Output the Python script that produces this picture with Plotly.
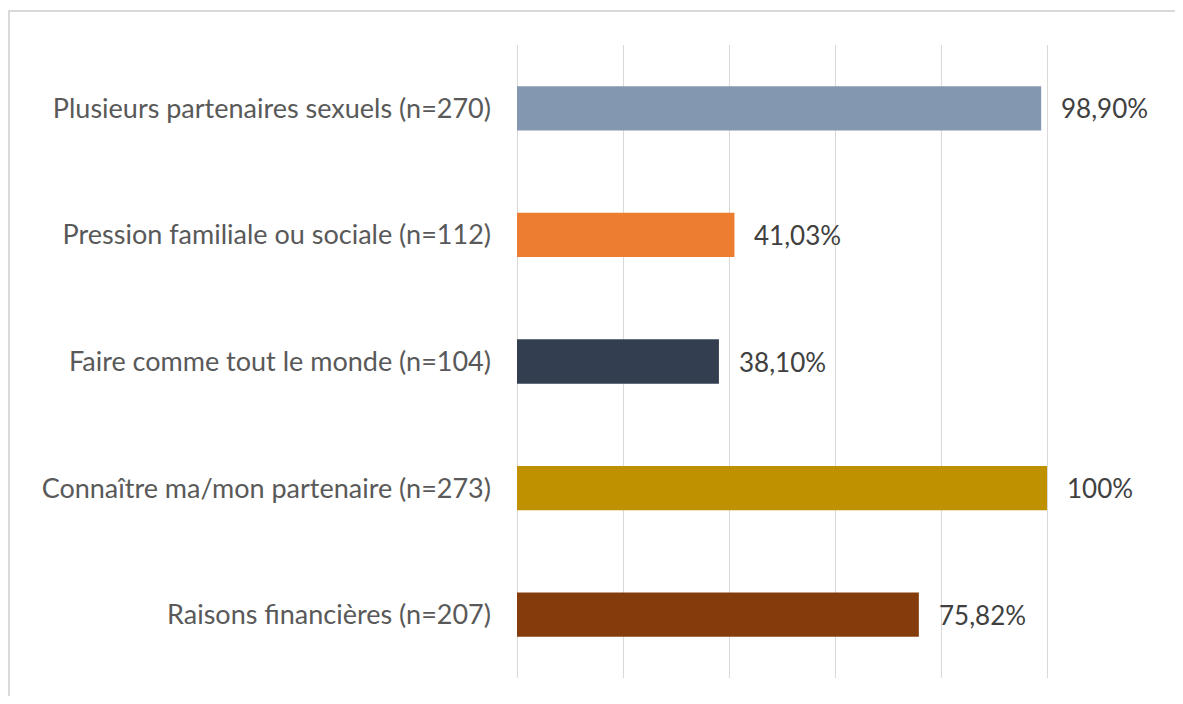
import plotly.graph_objects as go

categories = [
    "Plusieurs partenaires sexuels (n=270)",
    "Pression familiale ou sociale (n=112)",
    "Faire comme tout le monde (n=104)",
    "Connaître ma/mon partenaire (n=273)",
    "Raisons financières (n=207)",
]
values = [98.90, 41.03, 38.10, 100, 75.82]
value_labels = ["98,90%", "41,03%", "38,10%", "100%", "75,82%"]
colors = ["#8497B0", "#ED7D31", "#333F50", "#BF9000", "#843C0C"]

# page body has an 8px margin on every side, keep the figure inside the window
W, H = 1167, 688
L, R, T, B = 509, 22, 37, 18
pw, ph = W - L - R, H - T - B
FONT = "Lato"

fig = go.Figure(go.Bar(
    x=values,
    y=categories,
    orientation="h",
    marker=dict(color=colors, line=dict(width=0)),
    width=0.35,
    hoverinfo="x+y",
))

# value labels to the right of each bar
for v, lab, cat in zip(values, value_labels, categories):
    fig.add_annotation(
        x=v, y=cat, text=lab, showarrow=False,
        xanchor="left", xshift=18,
        font=dict(family=FONT, size=26, color="#404040"),
    )

# light frame around the chart (office chart border), right/bottom edges fall off-page
fig.add_shape(
    type="rect", xref="paper", yref="paper",
    x0=(1 - L) / pw, x1=(W + 30 - L) / pw,
    y0=-(H + 30 - T - ph) / ph, y1=1 + (T - 3) / ph,
    line=dict(color="#d9d9d9", width=2),
)

fig.update_layout(
    width=W, height=H,
    margin=dict(l=L, r=R, t=T, b=B),
    plot_bgcolor="white", paper_bgcolor="white",
    showlegend=False,
    font=dict(family=FONT, size=27, color="#595959"),
    xaxis=dict(
        range=[0, 120], dtick=20, showticklabels=False,
        showgrid=True, gridcolor="#d9d9d9", gridwidth=1,
        zeroline=True, zerolinecolor="#d9d9d9", zerolinewidth=1,
        showline=False, ticks="",
    ),
    yaxis=dict(
        categoryorder="array", categoryarray=categories[::-1],
        showgrid=False, showline=False, ticks="",
        tickfont=dict(size=27, color="#595959", family=FONT),
        ticklabelstandoff=25,
    ),
)

fig.write_html("out.html")
